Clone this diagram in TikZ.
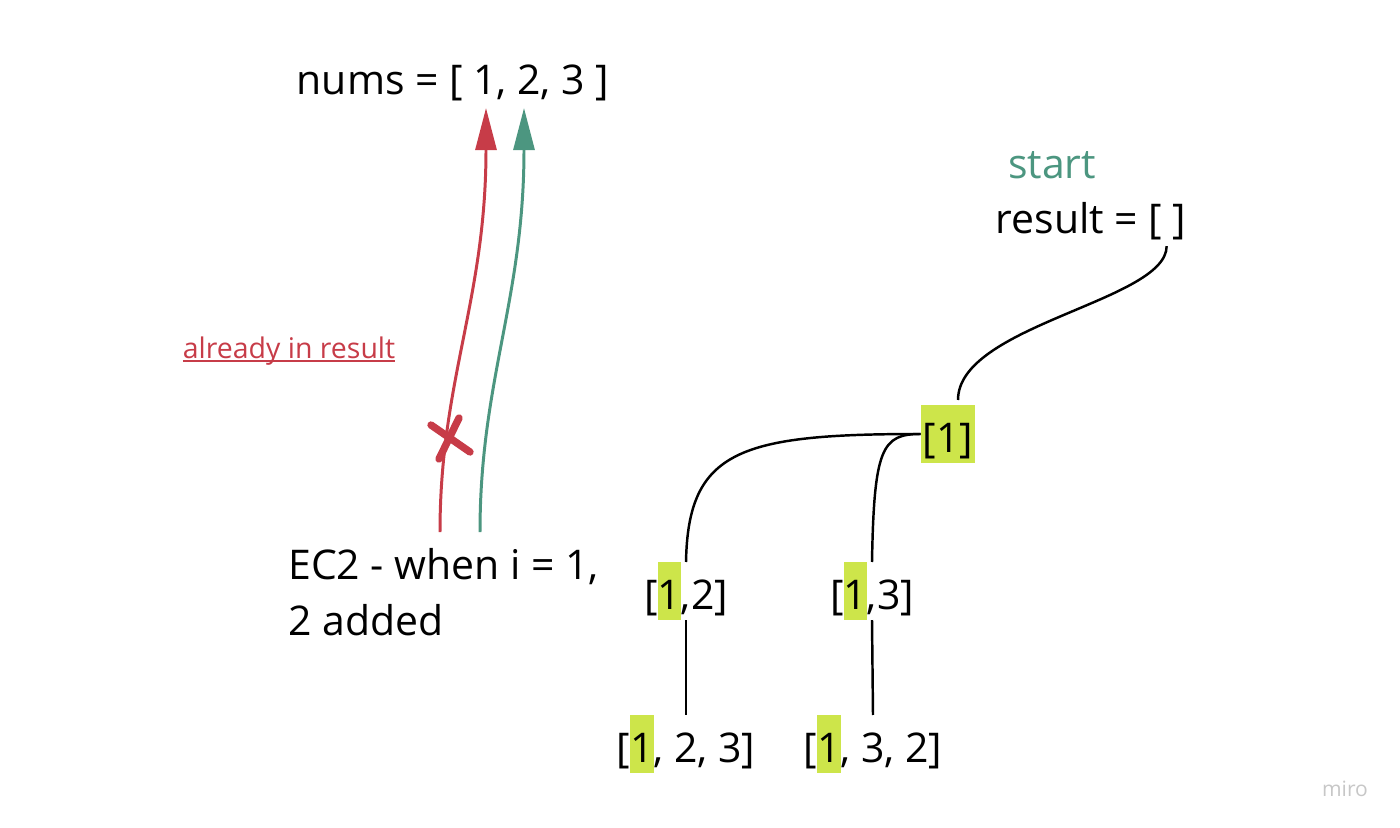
\documentclass[tikz,border=0pt]{standalone}
\usepackage{fontspec}
\setmainfont{Open Sans}
\usetikzlibrary{arrows.meta,calc}
\definecolor{redpath}{RGB}{199,60,72}
\definecolor{greenpath}{RGB}{76,150,128}
\definecolor{hlgreen}{RGB}{205,229,74}
\newcommand{\hlstrut}{\rule[-0.25em]{0pt}{1.4em}}
\newcommand{\hlone}{{\setlength{\fboxsep}{0pt}\colorbox{hlgreen}{\hlstrut 1}}}
\newcommand{\redline}[1]{\setbox0\hbox{#1}\rlap{\rule[-0.12em]{\wd0}{0.07em}}\box0}

\begin{document}
\begin{tikzpicture}[x=0.02cm,y=-0.02cm,
    txt/.style={inner sep=0pt,font=\fontsize{23.3}{31.9}\selectfont},
    branch/.style={line width=1.4pt,black},
    choice/.style={line width=1.7pt,-{Triangle[length=24pt,width=12pt]}}]
  \useasboundingbox (0,0) rectangle (1400,828);
  \node[txt,name=nums] at (453,83) {nums = [ 1, 2, 3 ]};
  \node[txt,text=greenpath,name=start] at (1052,165) {start};
  \node[txt,name=result] at (1091,221) {result = [ ]};
  \node[txt,fill=hlgreen,inner xsep=1pt,name=one] at (948,434) {[1]\hlstrut};
  \node[txt,name=onetwo] at (686,591) {[\hlone,2]};
  \node[txt,name=onethree] at (872,591) {[\hlone,3]};
  \node[txt,name=onetwothree] at (686,744) {[\hlone, 2, 3]};
  \node[txt,name=onethreetwo] at (873,744) {[\hlone, 3, 2]};
  \node[txt,align=left,anchor=north west,name=ec] at (288,548)
    {EC2 - when i = 1,\\2 added};
  \node[inner sep=0pt,text=redpath,font=\fontsize{16.2}{20}\selectfont,
    name=already] at (289,351) {\redline{already in result}};
  \node[inner sep=0pt,text=black!22,font=\fontsize{12}{14}\selectfont,
    name=miro] at (1345,789) {miro};
  % tree
  \draw[branch] ($(result.south east)+(-20,6)$) .. controls +(0,55) and +(0,-75) ..
    ($(one.north)+(10,-5)$);
  \draw[branch] (one.west) .. controls (740,434) and (688,450) .. (onetwo.north);
  \draw[branch] (one.west) .. controls (882,434) and (874,448) .. (onethree.north);
  \draw[branch] (onetwo.south) -- (onetwothree.north);
  \draw[branch] (onethree.south) -- (onethreetwo.north);
  % picks from nums
  \coordinate (redfoot) at (440,532);
  \coordinate (redtip) at (486,108);
  \coordinate (greenfoot) at (480,532);
  \coordinate (greentip) at (524,108);
  \draw[choice,redpath] (redfoot) .. controls (440,380) and (486,300) .. (redtip);
  \draw[choice,greenpath] (greenfoot) .. controls (480,380) and (524,300) .. (greentip);
  \draw[redpath,line width=4.2pt,line cap=round] (431,425) -- (470,452)
    (459,418) -- (439,459);
\end{tikzpicture}
\end{document}
